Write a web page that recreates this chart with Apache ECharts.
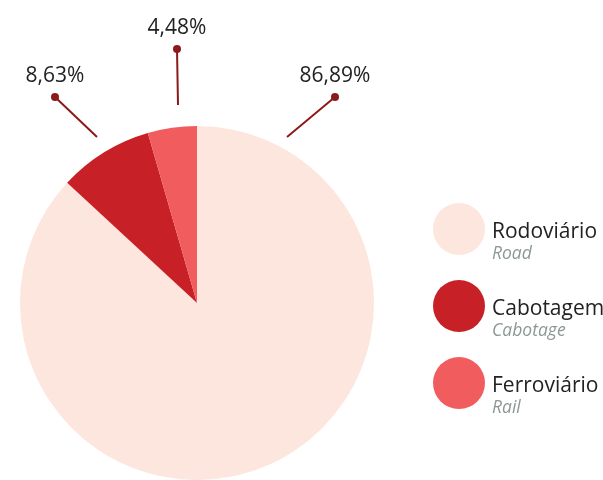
<!DOCTYPE html>
<html>
<head>
<meta charset="utf-8">
<script src="https://cdn.jsdelivr.net/npm/echarts@6/dist/echarts.min.js"></script>
<style>
html,body{margin:0;padding:0;background:#fff;}
#chart{width:603px;height:480px;}
</style>
</head>
<body>
<div id="chart"></div>
<script>
// Data
const categories = ['Rodoviário', 'Cabotagem', 'Ferroviário'];
const subtitles = ['Road', 'Cabotage', 'Rail'];
const shares = [86.89, 8.63, 4.48];

// Styles (kept apart from data)
const colors = ['#fde6de', '#c82027', '#f15c5f'];
const lineColor = '#8b1a1a';
// label anchor (x, y) and line start per slice, in pixels
const labelPlacement = [
  { x: 335, y: 85, from: [287, 137] },
  { x: 55, y: 85, from: [97, 137] },
  { x: 177, y: 37, from: [178, 105] }
];

const fmt = v => v.toFixed(2).replace('.', ',');

const chart = echarts.init(document.getElementById('chart'), null, { renderer: 'canvas' });

const data = categories.map((c, i) => ({
  name: c,
  value: shares[i],
  itemStyle: { color: colors[i] }
}));

chart.setOption({
  animation: false,
  textStyle: { fontFamily: 'Open Sans' },
  legend: {
    orient: 'vertical',
    left: 428,
    top: 198,
    itemWidth: 52,
    itemHeight: 52,
    itemGap: 17,
    icon: 'circle',
    selectedMode: false,
    data: categories,
    formatter: name => {
      const i = categories.indexOf(name);
      return '{n|' + name + '}\n{e|' + subtitles[i] + '}';
    },
    textStyle: {
      padding: [28, 0, 0, 2],
      rich: {
        n: { fontFamily: 'Open Sans', fontSize: 21, color: '#222', lineHeight: 22 },
        e: { fontFamily: 'Open Sans', fontSize: 17.5, fontStyle: 'italic', color: '#8c9896', lineHeight: 22 }
      }
    }
  },
  series: [{
    type: 'pie',
    center: [197, 303],
    radius: 177,
    startAngle: 90,
    clockwise: true,
    silent: true,
    data: data,
    label: {
      show: true,
      position: 'outside',
      overflow: 'none',
      edgeDistance: 0,
      formatter: p => '{v|' + fmt(p.value) + '%}\n{d|}',
      rich: {
        v: { fontFamily: 'Open Sans', fontSize: 21, color: '#222', lineHeight: 24, align: 'center' },
        d: { width: 8, height: 8, borderRadius: 4, backgroundColor: lineColor, lineHeight: 18, align: 'center' }
      }
    },
    labelLine: {
      show: true,
      lineStyle: { color: lineColor, width: 2 }
    },
    labelLayout: params => {
      const p = labelPlacement[params.dataIndex];
      const end = [p.x, p.y + 12];
      const mid = [(p.from[0] + end[0]) / 2, (p.from[1] + end[1]) / 2];
      return {
        x: p.x,
        y: p.y,
        align: 'center',
        verticalAlign: 'middle',
        labelLinePoints: [p.from, mid, end]
      };
    }
  }]
});
</script>
</body>
</html>
